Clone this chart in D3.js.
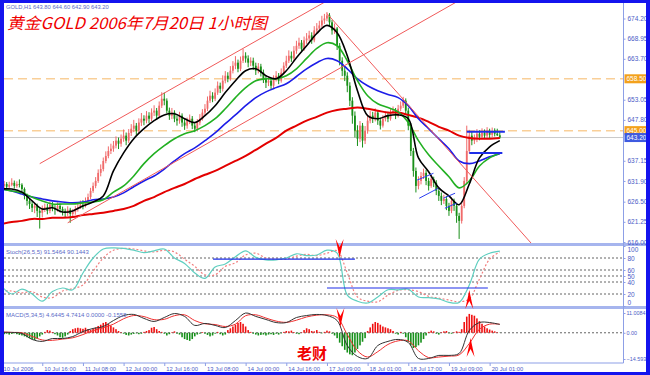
<!DOCTYPE html>
<html>
<head>
<meta charset="utf-8">
<title>GOLD H1</title>
<script src="https://cdn.jsdelivr.net/npm/d3@7"></script>
<style>
  html, body { margin: 0; padding: 0; background: #fff; }
  text { font-family: "Liberation Sans", Arial, sans-serif; }
</style>
</head>
<body>
<div id="chart"></div>
<script>
// hourly bars, 10 Jul 2006 00:00 .. 20 Jul 2006
const firstOpen = 631.0;
const closes = [
  630.6, 631.1, 630.4, 630.9, 631.4, 630.6, 631.1, 630.9,
  629.8, 628.0, 626.7, 625.9, 624.9, 625.4, 624.1, 623.6,
  624.6, 625.1, 624.1, 625.7, 624.9, 624.4, 625.4, 624.6,
  624.1, 623.6, 624.4, 623.3, 623.8, 624.6, 625.1, 625.7,
  625.4, 626.7, 627.7, 629.3, 630.6, 631.9, 634.0, 635.0,
  637.1, 638.4, 639.7, 640.3, 641.1, 642.4, 641.6, 642.9,
  643.7, 642.4, 644.4, 645.5, 646.3, 645.0, 647.1, 648.1,
  647.6, 648.9, 648.1, 649.7, 650.2, 648.9, 651.5, 653.3,
  652.8, 650.2, 648.9, 649.7, 648.1, 647.6, 648.9, 647.1,
  646.3, 647.6, 648.1, 646.3, 645.5, 647.1, 648.1, 649.7,
  650.7, 652.8, 654.1, 653.3, 654.9, 656.7, 655.9, 658.0,
  659.3, 658.5, 660.6, 661.9, 662.7, 661.1, 663.2, 664.5,
  663.8, 662.7, 663.2, 661.9, 660.6, 661.7, 660.1, 658.5,
  657.5, 658.0, 656.7, 658.5, 659.3, 658.0, 660.1, 661.9,
  663.2, 664.5, 663.8, 665.8, 667.1, 667.9, 666.3, 668.5,
  669.0, 669.8, 668.5, 671.1, 671.6, 672.4, 673.7, 674.2,
  675.0, 673.2, 671.1, 671.6, 667.1, 663.2, 660.6, 659.3,
  656.7, 652.8, 648.9, 645.0, 642.9, 646.3, 642.4, 645.0,
  647.6, 648.9, 648.1, 649.7, 647.6, 646.3, 648.1, 648.9,
  648.1, 649.7, 650.2, 648.9, 650.7, 651.5, 652.8, 650.2,
  646.3, 639.7, 634.5, 630.6, 631.9, 633.2, 634.0, 631.9,
  630.6, 632.4, 631.4, 629.3, 628.0, 626.7, 627.2, 625.4,
  624.1, 626.7, 625.4, 622.8, 621.5, 625.4, 631.9, 639.7,
  643.7, 642.4, 642.9, 644.2, 643.4, 644.4, 643.7, 645.0,
  643.9, 645.0, 644.2, 643.8, 643.2
];
const highs = [
  631.8, 631.9, 631.6, 631.7, 632.6, 632.0, 631.8, 632.3,
  631.3, 630.2, 628.6, 627.4, 626.5, 626.2, 626.0, 624.8,
  625.5, 626.0, 625.9, 626.5, 626.4, 625.6, 626.3, 626.0,
  625.2, 624.7, 625.3, 624.9, 624.6, 625.4, 626.0, 626.8,
  626.9, 627.6, 628.6, 630.1, 631.5, 632.9, 634.9, 636.2,
  638.0, 639.6, 640.9, 641.6, 642.3, 643.5, 643.2, 644.0,
  645.3, 644.5, 645.4, 646.7, 647.8, 647.0, 648.2, 649.6,
  649.0, 650.1, 649.8, 650.8, 651.6, 650.9, 652.6, 655.0,
  654.9, 653.4, 651.0, 650.9, 650.3, 649.0, 649.9, 649.5,
  648.0, 648.4, 649.2, 648.8, 647.1, 648.0, 649.3, 650.6,
  651.9, 653.9, 655.4, 655.0, 656.0, 657.8, 657.5, 659.4,
  660.5, 660.2, 661.8, 663.1, 664.4, 663.5, 664.3, 666.3,
  665.4, 664.6, 664.1, 664.0, 662.7, 662.6, 662.4, 660.9,
  659.2, 659.1, 658.8, 659.4, 660.5, 660.0, 661.2, 662.8,
  664.5, 665.9, 665.6, 667.0, 668.4, 669.2, 668.6, 669.5,
  670.4, 671.0, 670.6, 672.2, 673.0, 673.6, 674.9, 675.4,
  675.9, 675.6, 673.8, 672.9, 672.0, 667.8, 664.1, 661.8,
  660.2, 657.6, 653.7, 650.0, 646.4, 647.5, 647.0, 646.2,
  648.8, 650.1, 649.9, 650.8, 650.3, 648.4, 649.0, 650.0,
  649.7, 650.6, 651.3, 650.9, 651.7, 652.6, 653.8, 653.4,
  651.0, 647.0, 640.5, 635.4, 633.1, 634.2, 635.1, 634.8,
  632.7, 633.3, 633.0, 632.1, 630.1, 628.9, 628.3, 628.0,
  626.2, 627.6, 627.3, 626.0, 623.6, 626.4, 632.9, 646.3,
  645.2, 644.9, 644.0, 645.4, 645.1, 645.6, 645.3, 645.9,
  645.5, 645.8, 645.6, 645.5, 644.6
];
const lows = [
  629.9, 630.0, 629.8, 630.0, 630.5, 629.9, 630.1, 630.2,
  628.9, 627.1, 625.5, 624.6, 623.8, 623.5, 622.5, 619.5,
  622.4, 623.8, 623.2, 623.5, 624.0, 623.1, 623.9, 623.7,
  622.9, 622.3, 622.8, 621.0, 622.4, 623.1, 623.9, 624.6,
  624.5, 625.0, 626.2, 627.2, 628.8, 630.0, 631.4, 633.1,
  634.4, 636.5, 637.8, 638.9, 639.5, 640.4, 640.2, 640.8,
  642.1, 641.2, 641.8, 643.6, 644.6, 643.9, 644.3, 646.2,
  646.4, 646.9, 647.0, 647.5, 648.8, 647.8, 648.3, 650.9,
  651.6, 649.5, 647.8, 648.0, 647.2, 646.3, 646.8, 646.0,
  645.2, 645.5, 646.7, 645.4, 644.6, 644.8, 646.4, 647.6,
  649.0, 650.1, 652.2, 652.4, 652.7, 654.3, 654.8, 655.2,
  657.3, 657.6, 658.0, 659.9, 661.0, 660.2, 660.5, 662.6,
  662.7, 661.5, 661.8, 660.8, 659.5, 659.9, 659.1, 657.4,
  656.1, 656.6, 655.8, 656.0, 657.8, 657.1, 657.5, 659.6,
  661.3, 662.6, 662.9, 663.1, 665.0, 666.3, 665.4, 665.8,
  667.6, 668.3, 667.6, 668.0, 670.3, 670.8, 671.9, 672.8,
  673.5, 672.3, 670.0, 670.2, 666.0, 662.0, 659.2, 657.9,
  655.0, 651.4, 646.8, 643.2, 641.0, 642.0, 640.6, 641.5,
  644.2, 646.9, 647.0, 647.4, 646.5, 645.3, 645.8, 647.4,
  647.2, 647.6, 649.0, 648.0, 648.4, 650.1, 650.9, 649.3,
  645.1, 638.4, 633.0, 628.9, 629.7, 631.0, 632.4, 630.8,
  629.4, 630.1, 630.3, 628.2, 626.7, 625.6, 625.9, 624.3,
  622.8, 623.5, 624.1, 621.0, 616.8, 620.8, 624.8, 631.0,
  639.0, 641.2, 641.5, 642.0, 642.5, 642.8, 642.9, 643.1,
  643.0, 643.3, 643.5, 643.6, 642.9
];

// moving averages, read at every 4th bar
const maStep = 4;
const maBlack = [629.8, 629.8, 629.0, 626.7, 624.6, 624.9, 623.8, 624.1, 625.4, 626.4,
  628.0, 634.5, 639.2, 642.9, 645.5, 647.6, 649.1, 649.4, 648.1, 647.1,
  648.9, 651.5, 654.9, 658.0, 660.6, 661.1, 659.3, 658.5, 660.6, 664.0,
  667.1, 670.3, 672.4, 670.5, 664.5, 655.4, 648.9, 648.1, 648.9, 649.1,
  648.1, 637.9, 634.3, 630.1, 628.0, 625.7, 631.1, 637.9, 640.8, 642.4];
const maGreen = [629.8, 629.3, 628.8, 627.7, 626.7, 625.9, 625.9, 625.9, 626.2, 626.4,
  627.0, 629.0, 630.6, 633.2, 636.4, 639.0, 641.1, 642.9, 644.2, 645.0,
  646.3, 648.1, 650.7, 653.6, 656.2, 658.0, 658.5, 658.5, 659.3, 661.1,
  663.8, 666.4, 667.9, 667.1, 663.2, 658.0, 654.1, 652.0, 651.0, 649.9,
  647.1, 642.4, 638.7, 635.8, 633.0, 630.1, 631.9, 635.8, 637.9, 639.2];
const maBlue = [629.8, 629.3, 628.5, 627.7, 627.2, 626.7, 626.4, 626.2, 626.4, 627.0,
  627.2, 627.7, 628.8, 630.4, 631.9, 633.2, 635.0, 637.1, 639.0, 640.5,
  642.4, 644.4, 646.8, 649.1, 651.5, 653.6, 655.1, 656.2, 657.2, 659.1,
  661.1, 662.7, 663.8, 663.2, 661.1, 658.5, 656.7, 655.4, 654.4, 653.6,
  651.5, 648.1, 645.5, 642.9, 640.3, 637.1, 636.4, 637.1, 638.2, 639.0];
const maRed = [620.7, 621.2, 621.5, 622.0, 622.0, 622.3, 622.3, 622.5, 623.0, 623.3,
  623.6, 624.1, 624.6, 625.4, 626.7, 627.7, 629.0, 630.1, 631.1, 632.4,
  633.5, 634.5, 635.8, 637.1, 638.4, 640.0, 641.6, 643.1, 645.0, 646.3,
  647.6, 648.6, 649.7, 650.4, 650.7, 651.0, 650.7, 650.2, 649.7, 649.7,
  649.1, 648.4, 647.3, 646.0, 645.0, 643.7, 643.1, 642.9, 642.9, 643.1];

// Stochastic(26,5,5), every 4th bar
const stochMain = [33, 20, 28, 20, 8, 24, 30, 27, 55, 80,
  95, 97, 96, 93, 89, 92, 95, 80, 71, 55,
  46, 65, 70, 82, 92, 81, 77, 77, 80, 87,
  84, 85, 93, 88, 18, 8, 5, 15, 27, 27,
  28, 15, 14, 12, 6, 6, 35, 78, 88, 91.5];
const stochSignal = [25, 25, 22, 24, 15, 14, 25, 29, 35, 58,
  80, 93, 96, 95, 92, 90, 93, 90, 78, 66,
  52, 52, 66, 72, 85, 88, 80, 78, 78, 83,
  86, 84, 88, 92, 55, 15, 8, 7, 18, 26,
  27, 24, 16, 13, 10, 7, 12, 45, 78, 90.1];

// MACD(5,34,5): lines every 4th bar, histogram every bar
const macdMain = [0.2, 0.2, -0.4, -3.7, -4.8, -3.2, -3.2, -2.1, 0.7, 2.4,
  3.5, 6.8, 9.6, 10.2, 8.0, 6.3, 8.5, 10.7, 9.1, 4.1,
  5.2, 4.1, 2.9, 6.8, 11.0, 9.1, 7.4, 5.7, 5.7, 8.5,
  9.6, 10.2, 9.6, 6.8, -7.1, -13.2, -14.3, -7.1, -4.8, -3.7,
  -5.4, -14.3, -14.3, -12.6, -12.6, -11.5, 1.3, 5.7, 5.7, 4.64];
const macdSignal = [0.5, 0.2, 0.0, -2.0, -4.0, -4.2, -3.5, -2.8, -1.0, 1.2,
  2.8, 4.8, 7.8, 9.6, 9.0, 7.3, 7.5, 9.5, 10.0, 6.8,
  5.0, 4.6, 3.5, 4.8, 9.5, 10.0, 8.2, 6.5, 5.8, 7.0,
  8.8, 9.8, 10.0, 8.5, -1.0, -10.0, -13.5, -10.5, -6.5, -4.5,
  -4.5, -10.0, -13.8, -13.5, -13.0, -12.3, -6.0, 2.0, 4.8, 4.74];
const macdHist = [
  -0.5, -0.8, -0.5, -1.0, -0.6, -0.3, -0.8, -1.2, -1.5, -2.0,
  -2.5, -3.0, -3.5, -4.0, -3.2, -2.0, -1.0, 0.5, 1.5, 1.2,
  0.4, -0.8, -1.5, -2.5, -2.8, -2.0, -1.0, 1.0, 2.0, 2.5,
  2.8, 2.5, 2.2, 2.8, 2.0, 1.5, 2.2, 3.0, 3.8, 4.5,
  5.5, 6.0, 5.0, 4.0, 3.0, 2.0, 1.0, 0.3, -0.5, -1.2,
  -1.5, -1.0, -0.6, -0.3, -0.8, -0.5, 0.5, 1.0, 1.5, 2.8,
  3.2, 2.0, 1.0, 0.5, -0.5, -1.5, -0.8, 0.3, 0.8, -0.5,
  -1.0, -2.5, -3.5, -4.0, -4.5, -3.5, -2.0, -1.0, -0.5, 0.4,
  -0.5, -1.2, -2.0, -1.5, -0.5, 0.5, -0.8, -1.5, -1.0, 1.5,
  2.5, 3.5, 4.5, 5.5, 6.0, 5.0, 3.5, 1.5, 0.5, -0.5,
  -1.0, -1.5, -1.2, -1.0, -1.5, -1.0, -0.8, -1.2, -0.5, -1.0,
  -0.3, 0.5, 1.0, 0.8, 1.2, 0.4, -0.5, -0.8, 0.3, 1.5,
  2.5, 2.0, 1.0, 0.8, 1.5, 0.5, -0.3, 0.5, 1.2, 0.8,
  -0.5, -1.5, -3.0, -5.5, -7.5, -9.5, -11.0, -12.0, -12.5, -11.0,
  -9.0, -7.0, -5.0, -3.0, 1.0, 3.0, 5.0, 6.0, 5.5, 4.5,
  3.5, 3.0, 2.5, 2.0, 1.0, -0.5, -1.0, 0.5, -0.5, -2.5,
  -5.0, -7.0, -8.5, -8.0, -7.0, -5.5, -3.5, -1.5, 0.5, 1.2,
  0.8, -0.5, -1.0, 0.3, 0.8, 1.0, -0.3, -0.5, 0.3, 0.8,
  0.5, 2.0, 6.0, 9.0, 10.5, 10.0, 9.5, 8.0, 6.5, 5.0,
  3.5, 2.5, 1.8, 1.2, 0.8, 0.3, -0.1
];

const timeLabels = ["10 Jul 2006", "10 Jul 16:00", "11 Jul 08:00", "12 Jul 00:00", "12 Jul 16:00",
  "13 Jul 08:00", "14 Jul 00:00", "14 Jul 16:00", "17 Jul 09:00", "18 Jul 01:00",
  "18 Jul 17:00", "19 Jul 09:00", "20 Jul 01:00"];
const timeLabelStep = 16;
const priceTicks = ["674.20", "668.95", "663.70", "653.05", "647.80", "637.15", "631.90", "626.50", "621.25", "616.00"];
const priceMarks = [["658.50", "#f3a11c"], ["645.00", "#f3a11c"], ["643.20", "#3e5ae0"]];
const stochTicks = [100, 80, 60, 50, 40, 20, 0];
const stochLevels = [80, 60, 50, 40, 20];
const macdTicks = [11.0084, 0, -14.5938];

// objects drawn on the chart (bar index, price)
const trendRays = [
  {b1: 15, p1: 636.4, b2: 100, p2: 668.3},
  {b1: 26, p1: 621.0, b2: 130, p2: 660.1},
  {b1: 128, p1: 675.5, b2: 208.6, p2: 615.5}
];
const flagLines = [
  {b1: 163.4, p1: 632.1, b2: 169.9, p2: 633.9},
  {b1: 164.3, p1: 627.4, b2: 171.8, p2: 630.0},
  {b1: 173.8, p1: 627.4, b2: 178.4, p2: 628.7},
  {b1: 174.4, p1: 624.8, b2: 179.0, p2: 626.1}
];
const boxLines = [{b1: 183, b2: 198, p: 644.7}, {b1: 184, b2: 197, p: 639.2}];
const stochMarks = [{b1: 83.2, b2: 139, v: 78}, {b1: 128, b2: 191.3, v: 30}];
const arrows = [
  {b: 133, panel: "stoch", v: 80, dir: 1},
  {b: 133.3, panel: "macd", v: 3.2, dir: 1},
  {b: 184, panel: "stoch", v: 26.7, dir: -1},
  {b: 184.5, panel: "macd", v: -2.9, dir: -1}
];

// ---------------- drawing ----------------
const W = 650, H = 375;
const plotL = 4, plotR = 623.5;
const panels = {
  main:  {top: 3,   bottom: 243},
  stoch: {top: 246, bottom: 306},
  macd:  {top: 309, bottom: 363}
};
const bullColor = "#f06a6a", bearColor = "#188f18";
const axisColor = "#8d9fe6", labelColor = "#4b5cc6";

const svg = d3.select("#chart").append("svg")
  .attr("width", W).attr("height", H)
  .style("display", "block");
svg.append("rect").attr("width", W).attr("height", H).attr("fill", "#fff");

const x = d3.scaleLinear().domain([0, 196]).range([1.6, 499.8]);
const yP = d3.scaleLinear().domain([616, 674.2]).range([242, 18.5]);
const yS = d3.scaleLinear().domain([0, 100]).range([306, 246]);
const yM = d3.scaleLinear().domain([-14.5938, 11.0084]).range([359, 313]);

const defs = svg.append("defs");
Object.entries(panels).forEach(([k, p]) => {
  defs.append("clipPath").attr("id", "clip-" + k)
    .append("rect").attr("x", plotL).attr("y", p.top)
    .attr("width", plotR - plotL).attr("height", p.bottom - p.top);
});

// ----- main panel
const gMain = svg.append("g").attr("clip-path", "url(#clip-main)");

// order lines + bid line
[658.5, 645.0].forEach(p => {
  gMain.append("line").attr("x1", plotL).attr("x2", plotR)
    .attr("y1", yP(p)).attr("y2", yP(p))
    .attr("stroke", "#f9cf98").attr("stroke-width", 1.5)
    .attr("stroke-dasharray", "9,5");
});
gMain.append("line").attr("x1", plotL).attr("x2", plotR)
  .attr("y1", yP(643.2)).attr("y2", yP(643.2))
  .attr("stroke", "#c9c9c9").attr("stroke-width", 1);

const bars = closes.map((c, i) => ({i, o: i ? closes[i - 1] : firstOpen, c, h: highs[i], l: lows[i]}));

gMain.selectAll(".wick").data(bars).enter().append("line")
  .attr("class", "wick")
  .attr("x1", d => x(d.i)).attr("x2", d => x(d.i))
  .attr("y1", d => yP(d.h)).attr("y2", d => yP(d.l))
  .attr("stroke", d => d.c >= d.o ? bullColor : bearColor)
  .attr("stroke-width", 1);

gMain.selectAll(".body").data(bars).enter().append("rect")
  .attr("class", "body")
  .attr("x", d => x(d.i) - 0.9).attr("width", 1.8)
  .attr("y", d => yP(Math.max(d.o, d.c)))
  .attr("height", d => Math.max(0.8, Math.abs(yP(d.o) - yP(d.c))))
  .attr("fill", d => d.c >= d.o ? bullColor : bearColor);

const maLine = d3.line()
  .x((d, k) => x(k * maStep))
  .y(d => yP(d))
  .curve(d3.curveCatmullRom.alpha(0.5));

[[maRed, "#e30000", 2], [maBlue, "#1d1de8", 1.6], [maGreen, "#22b022", 1.6], [maBlack, "#000000", 1.6]]
  .forEach(([arr, col, w]) => {
    gMain.append("path").datum(arr).attr("d", maLine)
      .attr("fill", "none").attr("stroke", col).attr("stroke-width", w);
  });

// trend lines (rays to the right)
trendRays.forEach(t => {
  const x1 = x(t.b1), y1 = yP(t.p1), x2 = x(t.b2), y2 = yP(t.p2);
  const k = (y2 - y1) / (x2 - x1);
  const xe = plotR + 20;
  gMain.append("line").attr("x1", x1).attr("y1", y1)
    .attr("x2", xe).attr("y2", y1 + k * (xe - x1))
    .attr("stroke", "#f05a5a").attr("stroke-width", 1);
});
flagLines.forEach(t => {
  gMain.append("line").attr("x1", x(t.b1)).attr("y1", yP(t.p1))
    .attr("x2", x(t.b2)).attr("y2", yP(t.p2))
    .attr("stroke", "#2a3ef0").attr("stroke-width", 1);
});
boxLines.forEach(t => {
  gMain.append("line").attr("x1", x(t.b1)).attr("x2", x(t.b2))
    .attr("y1", yP(t.p)).attr("y2", yP(t.p))
    .attr("stroke", "#1e2ee8").attr("stroke-width", 2);
});

// ----- stochastic panel
const gSt = svg.append("g").attr("clip-path", "url(#clip-stoch)");
stochLevels.forEach(v => {
  gSt.append("line").attr("x1", plotL).attr("x2", plotR)
    .attr("y1", yS(v)).attr("y2", yS(v))
    .attr("stroke", "#3c3c3c").attr("stroke-width", 0.8)
    .attr("stroke-dasharray", "2,2");
});
const stLine = d3.line()
  .x((d, k) => x(k * maStep))
  .y(d => yS(d))
  .curve(d3.curveCatmullRom.alpha(0.5));
gSt.append("path").datum(stochSignal).attr("d", stLine)
  .attr("fill", "none").attr("stroke", "#f28080").attr("stroke-width", 1.2)
  .attr("stroke-dasharray", "2,2");
gSt.append("path").datum(stochMain).attr("d", stLine)
  .attr("fill", "none").attr("stroke", "#5fcfc0").attr("stroke-width", 1.2);
stochMarks.forEach(t => {
  gSt.append("line").attr("x1", x(t.b1)).attr("x2", x(t.b2))
    .attr("y1", yS(t.v)).attr("y2", yS(t.v))
    .attr("stroke", "#1e2ee8").attr("stroke-width", 1.2);
});

// ----- MACD panel
const gM = svg.append("g").attr("clip-path", "url(#clip-macd)");
gM.append("line").attr("x1", plotL).attr("x2", plotR)
  .attr("y1", yM(0)).attr("y2", yM(0))
  .attr("stroke", "#3c3c3c").attr("stroke-width", 0.8)
  .attr("stroke-dasharray", "2,2");
gM.selectAll(".hist").data(macdHist).enter().append("rect")
  .attr("class", "hist")
  .attr("x", (d, i) => x(i) - 0.8).attr("width", 1.6)
  .attr("y", d => Math.min(yM(0), yM(d)))
  .attr("height", d => Math.abs(yM(d) - yM(0)))
  .attr("fill", d => d >= 0 ? "#f01010" : "#16901a");
const mLine = d3.line()
  .x((d, k) => x(k * maStep))
  .y(d => yM(d))
  .curve(d3.curveCatmullRom.alpha(0.5));
gM.append("path").datum(macdSignal).attr("d", mLine)
  .attr("fill", "none").attr("stroke", "#f03030").attr("stroke-width", 1);
gM.append("path").datum(macdMain).attr("d", mLine)
  .attr("fill", "none").attr("stroke", "#333333").attr("stroke-width", 1);

// ----- separators and axes
[panels.main.bottom, panels.stoch.bottom].forEach(yy => {
  svg.append("rect").attr("x", plotL).attr("y", yy).attr("width", W - plotL).attr("height", 3)
    .attr("fill", "#a6b5ee");
});
svg.append("line").attr("x1", plotR).attr("x2", plotR).attr("y1", 3).attr("y2", panels.macd.bottom)
  .attr("stroke", axisColor).attr("stroke-width", 1);
svg.append("line").attr("x1", plotL).attr("x2", plotR).attr("y1", panels.macd.bottom).attr("y2", panels.macd.bottom)
  .attr("stroke", axisColor).attr("stroke-width", 1);

function styleAxis(g) {
  g.select(".domain").remove();
  g.selectAll("line").attr("stroke", axisColor);
  g.selectAll("text").attr("fill", labelColor)
    .style("font-family", '"Liberation Sans", Arial, sans-serif');
}

const priceAxis = svg.append("g").attr("transform", `translate(${plotR},0)`)
  .call(d3.axisRight(yP).tickValues(priceTicks.map(Number))
    .tickFormat(d3.format(".2f")).tickSize(2).tickPadding(2))
  .style("font-size", "6.5px");
styleAxis(priceAxis);

// current order / bid labels on the price axis
priceMarks.forEach(([txt, col]) => {
  const yy = yP(+txt);
  svg.append("rect").attr("x", plotR + 1).attr("y", yy - 4.5).attr("width", 24).attr("height", 9)
    .attr("fill", col);
  svg.append("text").attr("x", plotR + 3).attr("y", yy + 2.3).text(txt)
    .attr("fill", "#ffffff").style("font-size", "6.5px");
});

const stochAxis = svg.append("g").attr("transform", `translate(${plotR},0)`)
  .call(d3.axisRight(yS).tickValues(stochTicks).tickSize(2).tickPadding(2))
  .style("font-size", "6.5px");
styleAxis(stochAxis);
stochAxis.selectAll("text").attr("dy", d => d === 100 ? "0.9em" : d === 0 ? "-0.25em" : "0.32em");

const macdAxis = svg.append("g").attr("transform", `translate(${plotR},0)`)
  .call(d3.axisRight(yM).tickValues(macdTicks)
    .tickFormat(d => d === 0 ? "0.00" : d3.format(".4f")(d)).tickSize(2).tickPadding(1))
  .style("font-size", "5.4px");
styleAxis(macdAxis);

const timeAxis = svg.append("g").attr("transform", `translate(0,${panels.macd.bottom})`)
  .call(d3.axisBottom(x).tickValues(d3.range(0, timeLabels.length * timeLabelStep, timeLabelStep))
    .tickFormat((d, k) => timeLabels[k]).tickSize(3).tickPadding(1))
  .style("font-size", "5.8px");
styleAxis(timeAxis);
timeAxis.selectAll("text").attr("text-anchor", "start").attr("x", 1.5);

// ----- arrows
arrows.forEach(a => {
  const cx = x(a.b);
  const ty = a.panel === "stoch" ? yS(a.v) : yM(a.v);
  const d = a.dir; // 1: pointing down, -1: pointing up
  const p = [[0, 0], [1, -5 * d], [4, -19 * d], [0, -11 * d], [-4, -19 * d], [-1, -5 * d]]
    .map(q => [cx + q[0], ty + q[1]]);
  svg.append("path").attr("d", "M" + p.join("L") + "Z").attr("fill", "#ff0000");
});

// ----- texts
svg.append("text").attr("x", 6).attr("y", 8.5)
  .text("GOLD,H1 643.80 644.60 642.90 643.20")
  .attr("fill", "#5a6bc8").style("font-size", "5.8px");
svg.append("text").attr("x", 6).attr("y", 254)
  .text("Stoch(26,5,5) 91.5464 90.1443")
  .attr("fill", "#5a6bc8").style("font-size", "6px");
svg.append("text").attr("x", 6).attr("y", 317)
  .text("MACD(5,34,5) 4.6445 4.7414 0.0000 -0.1558")
  .attr("fill", "#5a6bc8").style("font-size", "6px");

svg.append("text").attr("x", 7).attr("y", 28.5)
  .text("黄金GOLD  2006年7月20日  1小时图")
  .attr("fill", "#f00000")
  .attr("textLength", 260).attr("lengthAdjust", "spacingAndGlyphs")
  .style("font-family", '"Noto Sans CJK SC", sans-serif')
  .style("font-style", "italic").style("font-size", "16px");
svg.append("text").attr("x", 297).attr("y", 359)
  .text("老财")
  .attr("fill", "#f00000")
  .style("font-family", '"Noto Sans CJK SC", sans-serif')
  .style("font-weight", "bold").style("font-size", "15px");

// ----- blue frame
const frame = "#1414ee";
svg.append("rect").attr("x", 0).attr("y", 0).attr("width", W).attr("height", 3).attr("fill", frame);
svg.append("rect").attr("x", 0).attr("y", 0).attr("width", 4).attr("height", H).attr("fill", frame);
svg.append("rect").attr("x", 646).attr("y", 0).attr("width", 4).attr("height", H).attr("fill", frame);
svg.append("rect").attr("x", 0).attr("y", 372).attr("width", W).attr("height", 3).attr("fill", frame);
</script>
</body>
</html>
